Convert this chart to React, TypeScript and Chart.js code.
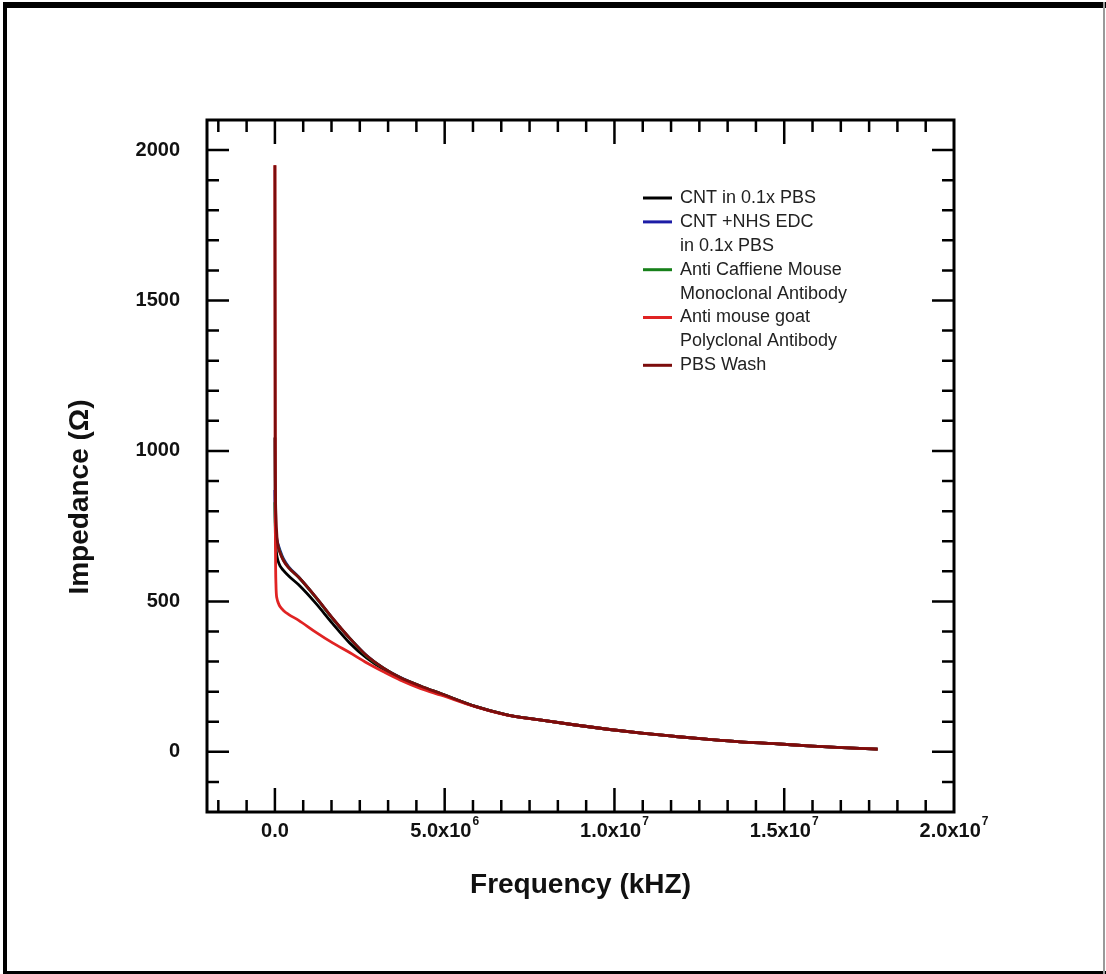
import React, { useEffect, useRef } from 'react';
import { Chart, registerables } from 'chart.js';

Chart.register(...registerables);

// ---- data ----
const frequency = [
  0, 1e4, 3e4, 6e4, 1e5, 1.5e5, 2.5e5, 4e5, 7e5, 1.2e6, 1.7e6, 2.2e6, 2.7e6, 3.2e6, 3.7e6,
  4.3e6, 4.9e6, 5.9e6, 6.8e6, 7.8e6, 8.8e6, 9.8e6, 1.08e7, 1.18e7, 1.27e7, 1.37e7, 1.47e7,
  1.57e7, 1.67e7, 1.775e7,
];
const cntPbs = [
  1045, 760, 680, 650, 632, 618, 603, 585, 555, 494, 426, 362, 312, 274, 245, 216, 192, 151,
  124, 106, 90, 75, 62, 51, 42, 33, 27, 20, 14, 9,
];
const cntNhsEdc = [
  870, 780, 730, 705, 688, 670, 642, 616, 581, 514, 443, 378, 320, 278, 247, 218, 193, 151,
  124, 106, 90, 75, 62, 51, 42, 33, 27, 20, 14, 9,
];
const antiCaffeine = [
  830, 760, 722, 698, 682, 664, 638, 613, 580, 514, 443, 378, 319, 278, 246, 218, 193, 151,
  124, 106, 90, 75, 62, 51, 42, 33, 27, 20, 14, 9,
];
const antiMouseGoat = [
  1950, 900, 560, 510, 495, 483, 470, 457, 437, 398, 362, 330, 296, 266, 238, 210, 188, 150,
  123, 106, 90, 75, 62, 51, 42, 33, 27, 20, 14, 9,
];
const pbsWash = [
  1950, 1000, 790, 715, 680, 662, 636, 612, 580, 515, 444, 378, 320, 278, 246, 218, 193, 151,
  124, 106, 90, 75, 62, 51, 42, 33, 27, 20, 14, 9,
];

const seriesNames = [
  'CNT in 0.1x PBS',
  'CNT +NHS EDC in 0.1x PBS',
  'Anti Caffiene Mouse Monoclonal Antibody',
  'Anti mouse goat Polyclonal Antibody',
  'PBS Wash',
];
const legendLines = [
  ['CNT in 0.1x PBS'],
  ['CNT +NHS EDC', 'in 0.1x PBS'],
  ['Anti Caffiene Mouse', 'Monoclonal Antibody'],
  ['Anti mouse goat', 'Polyclonal Antibody'],
  ['PBS Wash'],
];
const seriesColors = ['#000000', '#1c1ca6', '#17801a', '#e02323', '#7c0c0c'];
const seriesValues = [cntPbs, cntNhsEdc, antiCaffeine, antiMouseGoat, pbsWash];

const xMajorTicks = [0, 5e6, 1e7, 1.5e7, 2e7];
const xTickBase = ['0.0', '5.0x10', '1.0x10', '1.5x10', '2.0x10'];
const xTickExp = ['', '6', '7', '7', '7'];
const yMajorTicks = [0, 500, 1000, 1500, 2000];
const xMinorStep = 5e6 / 6;
const yMinorStep = 100;
const X_MIN = -2e6;
const X_MAX = 2e7;
const Y_MIN = -200;
const Y_MAX = 2100;
const X_TITLE = 'Frequency (kHZ)';
const Y_TITLE = 'Impedance (Ω)';

const FONT = '"Liberation Sans", Arial, Helvetica, sans-serif';

const decorPlugin = {
  id: 'decor',
  beforeDraw(chart: any) {
    const { ctx, width, height } = chart;
    ctx.save();
    ctx.fillStyle = '#ffffff';
    ctx.fillRect(0, 0, width, height);
    ctx.restore();
  },
  afterDraw(chart: any) {
    const { ctx, chartArea: a, scales, width, height } = chart;
    const x = scales.x;
    const y = scales.y;
    ctx.save();
    // frame
    ctx.strokeStyle = '#000';
    ctx.lineWidth = 3;
    ctx.strokeRect(a.left, a.top, a.right - a.left, a.bottom - a.top);
    ctx.lineWidth = 2.5;
    const MAJ = 24;
    const MIN = 12;
    const vTick = (px: number, len: number) => {
      ctx.beginPath();
      ctx.moveTo(px, a.bottom);
      ctx.lineTo(px, a.bottom - len);
      ctx.moveTo(px, a.top);
      ctx.lineTo(px, a.top + len);
      ctx.stroke();
    };
    const hTick = (py: number, len: number) => {
      ctx.beginPath();
      ctx.moveTo(a.left, py);
      ctx.lineTo(a.left + len, py);
      ctx.moveTo(a.right, py);
      ctx.lineTo(a.right - len, py);
      ctx.stroke();
    };
    for (let k = Math.ceil(X_MIN / xMinorStep); k * xMinorStep < X_MAX - 1; k++) {
      const v = k * xMinorStep;
      if (v <= X_MIN + 1) continue;
      const isMajor = xMajorTicks.some((m) => Math.abs(m - v) < 1);
      if (!isMajor) vTick(x.getPixelForValue(v), MIN);
    }
    xMajorTicks.forEach((v) => {
      if (v < X_MAX) vTick(x.getPixelForValue(v), MAJ);
    });
    for (let k = Math.ceil(Y_MIN / yMinorStep); k * yMinorStep < Y_MAX; k++) {
      const v = k * yMinorStep;
      if (v <= Y_MIN) continue;
      const isMajor = yMajorTicks.includes(v);
      hTick(y.getPixelForValue(v), isMajor ? MAJ - 2 : MIN);
    }
    // x tick labels with superscripts
    ctx.fillStyle = '#111';
    ctx.textBaseline = 'middle';
    ctx.textAlign = 'left';
    xMajorTicks.forEach((v, i) => {
      const base = xTickBase[i];
      const exp = xTickExp[i];
      ctx.font = `bold 20px ${FONT}`;
      const bw = ctx.measureText(base).width;
      ctx.font = `bold 12px ${FONT}`;
      const ew = exp ? ctx.measureText(exp).width + 1 : 0;
      const px = x.getPixelForValue(v);
      const start = px - (bw + ew) / 2;
      const cy = a.bottom + 19;
      ctx.font = `bold 20px ${FONT}`;
      ctx.fillText(base, start, cy);
      if (exp) {
        ctx.font = `bold 12px ${FONT}`;
        ctx.fillText(exp, start + bw + 1, cy - 9);
      }
    });
    // y axis title
    ctx.save();
    ctx.translate(80, 497);
    ctx.rotate(-Math.PI / 2);
    ctx.textAlign = 'center';
    ctx.textBaseline = 'middle';
    ctx.font = `bold 28px ${FONT}`;
    ctx.fillStyle = '#111';
    ctx.fillText(Y_TITLE, 0, 0);
    ctx.restore();
    // legend
    const lx1 = 643;
    const lx2 = 672;
    const tx = 680;
    let ly = 198;
    const rowH = 23.9;
    ctx.font = `18px ${FONT}`;
    ctx.fillStyle = '#222';
    ctx.textAlign = 'left';
    ctx.textBaseline = 'middle';
    legendLines.forEach((lines, i) => {
      ctx.strokeStyle = seriesColors[i];
      ctx.lineWidth = 3;
      ctx.beginPath();
      ctx.moveTo(lx1, ly);
      ctx.lineTo(lx2, ly);
      ctx.stroke();
      lines.forEach((t) => {
        ctx.fillText(t, tx, ly);
        ly += rowH;
      });
    });
    // page border
    ctx.fillStyle = '#000';
    ctx.fillRect(3, 2, width - 3, 6);
    ctx.fillRect(3, 2, 4, height - 2);
    ctx.fillRect(3, height - 3, width - 3, 3);
    ctx.fillStyle = '#9a9a9a';
    ctx.fillRect(width - 3, 2, 2, height - 2);
    ctx.restore();
  },
};

export default function App() {
  const canvasRef = useRef<HTMLCanvasElement | null>(null);

  useEffect(() => {
    const canvas = canvasRef.current;
    if (!canvas) return;
    const order = [4, 3, 2, 1, 0];
    const chart = new Chart(canvas, {
      type: 'line',
      data: {
        datasets: seriesValues.map((vals, i) => ({
          label: seriesNames[i],
          data: frequency.map((f, j) => ({ x: f, y: vals[j] })),
          borderColor: seriesColors[i],
          backgroundColor: seriesColors[i],
          borderWidth: 2.8,
          pointRadius: 0,
          cubicInterpolationMode: 'monotone' as const,
          fill: false,
          order: order[i],
        })),
      },
      options: {
        responsive: false,
        maintainAspectRatio: false,
        animation: false,
        events: [],
        layout: { padding: { top: 120, right: 152, left: 0, bottom: 0 } },
        plugins: {
          legend: { display: false },
          tooltip: { enabled: false },
        },
        scales: {
          x: {
            type: 'linear',
            min: X_MIN,
            max: X_MAX,
            grid: { display: false, drawTicks: false },
            border: { display: false },
            ticks: { display: false },
            afterBuildTicks: (s: any) => {
              s.ticks = xMajorTicks.map((v) => ({ value: v }));
            },
            afterFit: (s: any) => {
              s.height = 162;
            },
            title: {
              display: true,
              text: X_TITLE,
              color: '#111',
              font: { family: FONT, size: 28, weight: 'bold' },
              padding: { top: 0, bottom: 72 },
            },
          },
          y: {
            type: 'linear',
            min: Y_MIN,
            max: Y_MAX,
            grid: { display: false, drawTicks: false },
            border: { display: false },
            afterBuildTicks: (s: any) => {
              s.ticks = yMajorTicks.map((v) => ({ value: v }));
            },
            afterFit: (s: any) => {
              s.width = 207;
            },
            ticks: {
              color: '#111',
              padding: 27,
              font: { family: FONT, size: 20, weight: 'bold' },
              callback: (v: any) => String(v),
            },
            title: { display: false, text: Y_TITLE },
          },
        },
      },
      plugins: [decorPlugin],
    });
    return () => chart.destroy();
  }, []);

  return (
    <div style={{ position: 'absolute', left: 0, top: 0, width: 1106, height: 974 }}>
      <canvas ref={canvasRef} width={1106} height={974} style={{ display: 'block' }} />
    </div>
  );
}
